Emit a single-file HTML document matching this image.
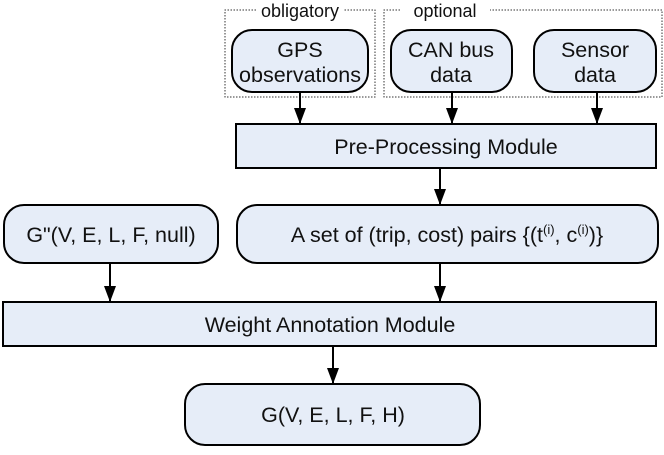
<!DOCTYPE html>
<html><head><style>
body{margin:0;background:#fff}
svg text{font-family:"Liberation Sans",Arial,sans-serif;font-size:21.5px;fill:#111}
</style></head><body>
<svg width="664" height="450" viewBox="0 0 664 450" xmlns="http://www.w3.org/2000/svg">
<defs><marker id="a" markerWidth="16" markerHeight="12" refX="16" refY="6" orient="auto" markerUnits="userSpaceOnUse"><path d="M0,0 L16,6 L0,12 Z" fill="#000"/></marker></defs>
<g fill="none" stroke="#333" stroke-dasharray="1.5,1.5" stroke-width="1">
<path d="M256,10 H225 V97 H375 V10 H344"/>
<path d="M400,10 H384 V97 H662 V10 H490"/>
</g>
<text x="300" y="17" text-anchor="middle" style="font-size:18px">obligatory</text>
<text x="445" y="17" text-anchor="middle" style="font-size:18px">optional</text>
<g fill="#e6edf8" stroke="#000" stroke-width="2">
<rect x="232" y="30" width="136" height="62" rx="20"/>
<rect x="391" y="30" width="121" height="62" rx="20"/>
<rect x="534" y="30" width="122" height="62" rx="20"/>
<rect x="236" y="124" width="420" height="44"/>
<rect x="4" y="205" width="214" height="58" rx="20"/>
<rect x="237" y="205" width="421" height="58" rx="20"/>
<rect x="3" y="302" width="653" height="44"/>
<rect x="185" y="384" width="295" height="61" rx="20"/>
</g>
<g stroke="#000" stroke-width="2" marker-end="url(#a)">
<line x1="300" y1="92" x2="300" y2="124"/>
<line x1="452" y1="92" x2="452" y2="124"/>
<line x1="597" y1="92" x2="597" y2="124"/>
<line x1="440" y1="168" x2="440" y2="205"/>
<line x1="110" y1="263" x2="110" y2="302"/>
<line x1="440" y1="263" x2="440" y2="302"/>
<line x1="333" y1="346" x2="333" y2="384"/>
</g>
<g text-anchor="middle">
<text x="300" y="57">GPS</text><text x="300" y="82">observations</text>
<text x="451" y="57">CAN bus</text><text x="451" y="82">data</text>
<text x="595" y="57">Sensor</text><text x="595" y="82">data</text>
<text x="446" y="154">Pre-Processing Module</text>
<text x="111" y="242">G"(V, E, L, F, null)</text>
<text x="447" y="242">A set of (trip, cost) pairs {(t<tspan dy="-8" style="font-size:13px">(i)</tspan><tspan dy="8">, c</tspan><tspan dy="-8" style="font-size:13px">(i)</tspan><tspan dy="8">)}</tspan></text>
<text x="330" y="332">Weight Annotation Module</text>
<text x="333" y="422">G(V, E, L, F, H)</text>
</g>
</svg>
</body></html>
